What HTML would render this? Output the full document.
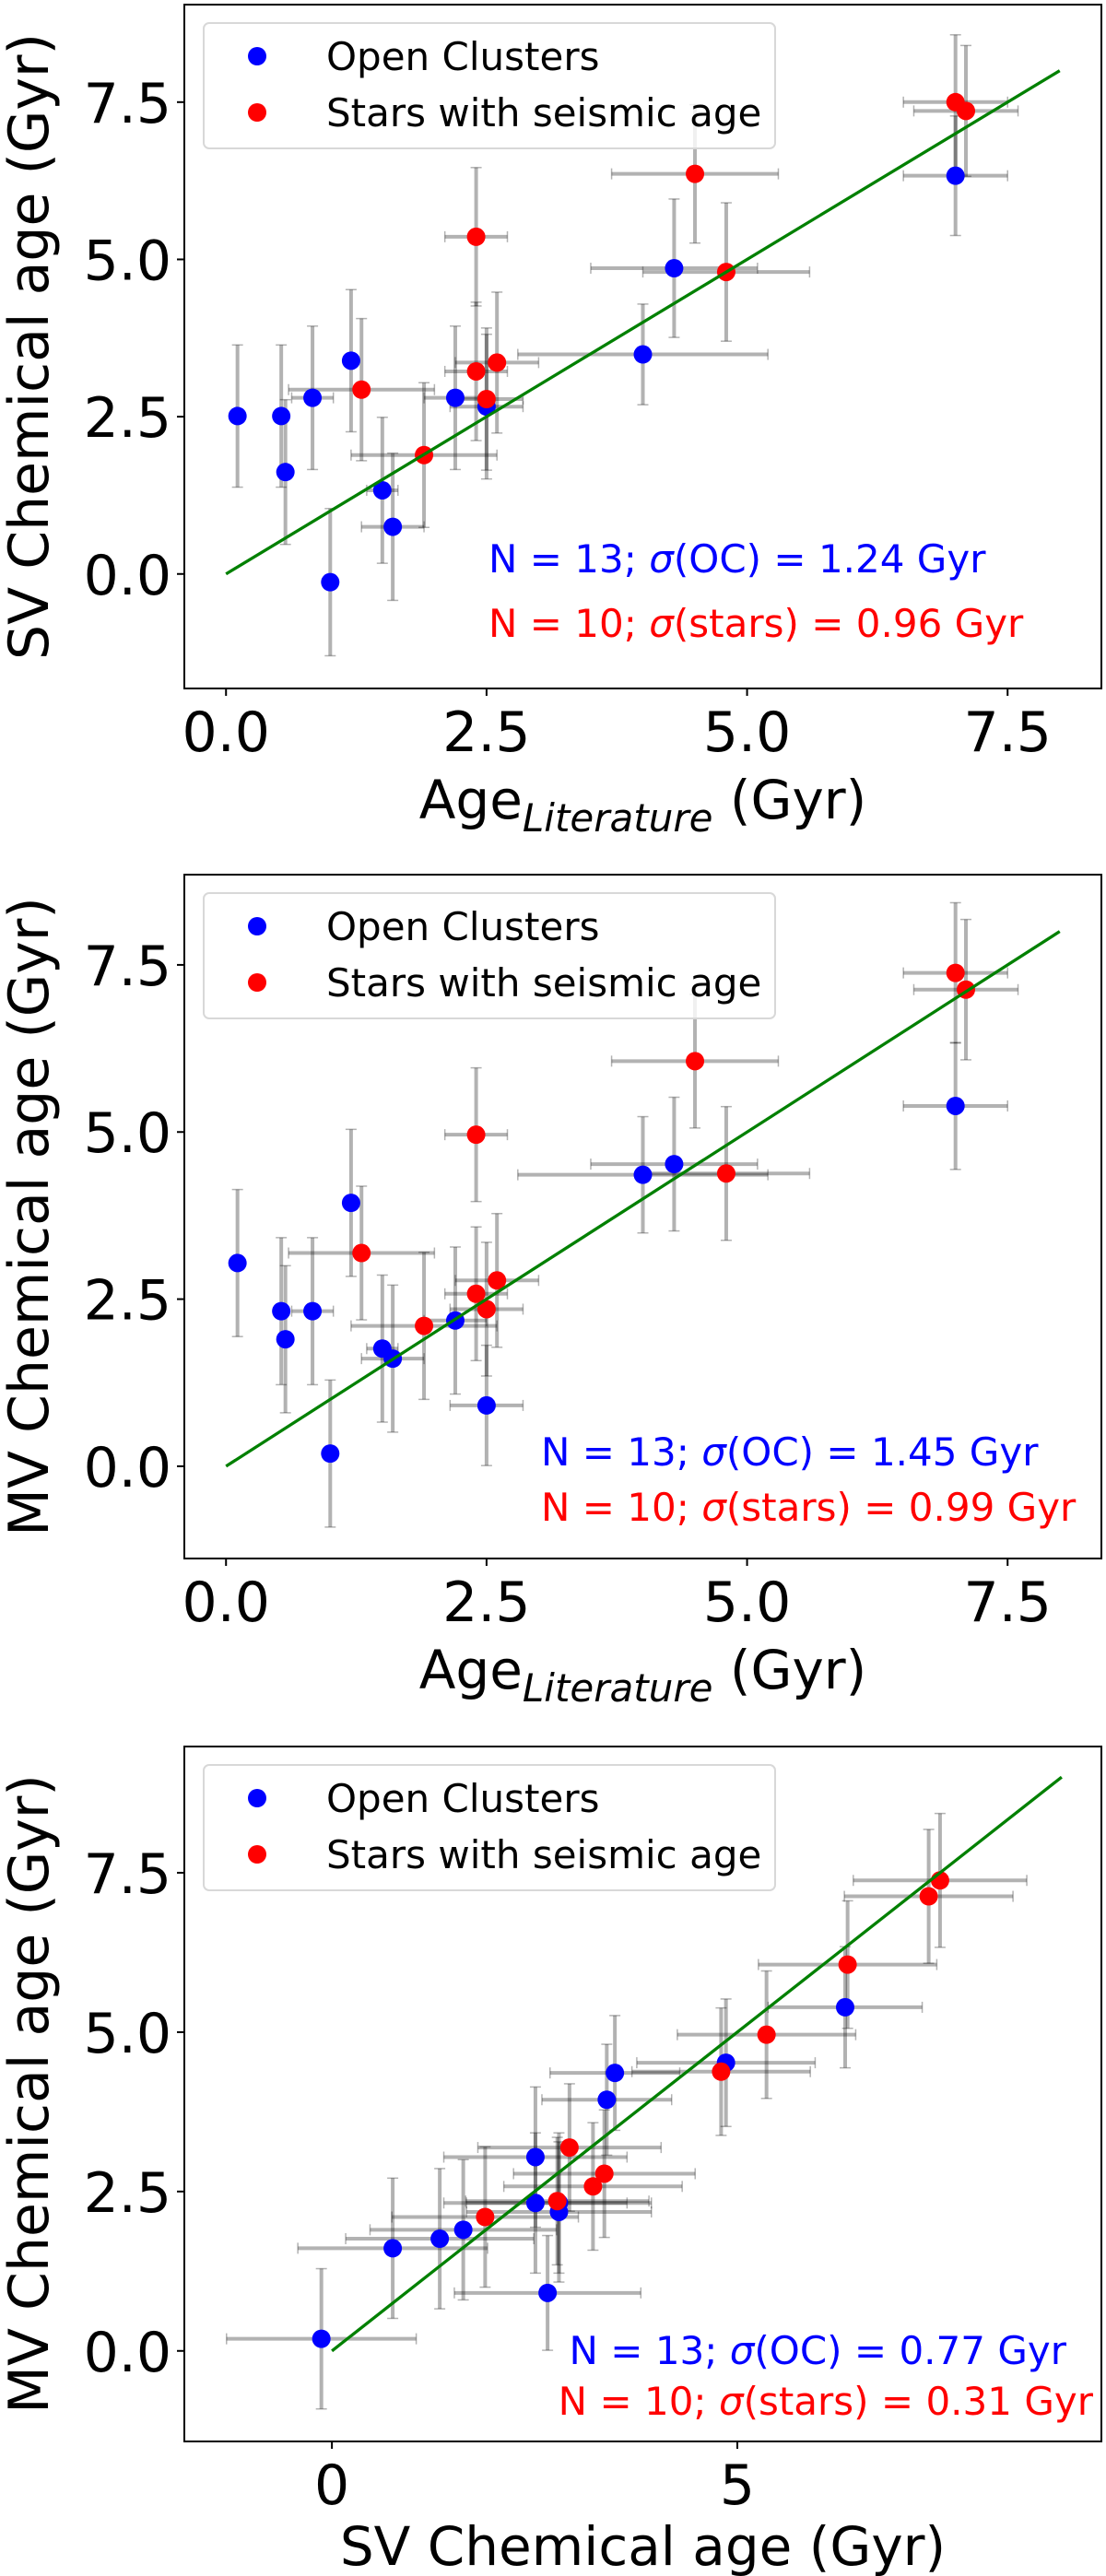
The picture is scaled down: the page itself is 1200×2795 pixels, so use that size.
<!DOCTYPE html>
<html><head><meta charset="utf-8">
<style>
html,body{margin:0;padding:0;background:#fff;}
svg{display:block;font-family:"DejaVu Sans","Liberation Sans",sans-serif;}
</style></head>
<body>
<svg id="fig" width="1200" height="2795" viewBox="0 0 1200 2795" xmlns="http://www.w3.org/2000/svg"></svg>
<script>
// Panel 1 data: Age_Literature vs SV chemical age
const p1ocX = [0.11,0.53,0.57,0.83,1.2,1.5,1.6,1.0,2.2,2.5,4.0,4.3,7.0];
const p1ocY = [2.51,2.51,1.62,2.80,3.39,1.33,0.75,-0.13,2.80,2.66,3.49,4.86,6.33];
const p1ocXerr = [0,0,0.05,0.2,0,0.15,0.3,0,0.3,0.35,1.2,0.8,0.5];
const p1ocYerr = [1.13,1.13,1.15,1.14,1.13,1.16,1.17,1.17,1.14,1.15,0.8,1.1,0.95];
const p1stX = [2.4,2.4,2.5,2.6,1.3,1.9,4.5,4.8,7.0,7.1];
const p1stY = [5.36,3.22,2.78,3.36,2.93,1.89,6.36,4.80,7.50,7.36];
const p1stXerr = [0.3,0.3,0.35,0.4,0.7,0.7,0.8,0.8,0.5,0.5];
const p1stYerr = [1.1,1.1,1.13,1.12,1.13,1.15,1.1,1.1,1.07,1.04];
// Panel 2 data: Age_Literature vs MV chemical age
const p2ocX = p1ocX.slice();
const p2ocY = [3.04,2.32,1.90,2.32,3.94,1.76,1.61,0.19,2.18,0.91,4.36,4.52,5.39];
const p2ocXerr = p1ocXerr.slice();
const p2ocYerr = [1.1,1.1,1.1,1.1,1.1,1.1,1.1,1.1,1.1,0.9,0.87,1.0,0.95];
const p2stX = p1stX.slice();
const p2stY = [4.96,2.58,2.35,2.78,3.19,2.10,6.06,4.38,7.38,7.13];
const p2stXerr = p1stXerr.slice();
const p2stYerr = [1.0,1.0,1.0,1.0,1.0,1.1,1.0,1.0,1.05,1.05];
// Panel 3 data: SV vs MV chemical age
const p3ocX = [-0.13,0.75,1.33,1.62,2.51,2.51,2.80,2.66,3.39,3.49,4.86,6.33,2.80];
const p3ocY = [0.19,1.61,1.76,1.90,3.04,2.32,2.18,0.91,3.94,4.36,4.52,5.39,2.32];
const p3ocXerr = [1.17,1.17,1.16,1.15,1.13,1.13,1.14,1.15,0.8,0.8,1.1,0.95,1.14];
const p3ocYerr = [1.1,1.1,1.1,1.1,1.1,1.1,1.1,0.9,0.87,0.9,1.0,0.95,1.1];
const p3stX = [1.89,2.78,2.93,3.22,3.36,4.80,5.36,6.36,7.36,7.50];
const p3stY = [2.10,2.35,3.19,2.58,2.78,4.38,4.96,6.06,7.13,7.38];
const p3stXerr = [1.15,1.13,1.13,1.1,1.12,1.1,1.1,1.1,1.04,1.07];
const p3stYerr = [1.1,1.0,1.0,1.0,1.0,1.0,1.0,1.0,1.05,1.05];

const litTicks = [0,2.5,5,7.5];
const litTickLabels = ["0.0","2.5","5.0","7.5"];
const yTicks = [0,2.5,5,7.5];
const yTickLabels = ["0.0","2.5","5.0","7.5"];
const svTicks = [0,5];
const svTickLabels = ["0","5"];

const NS="http://www.w3.org/2000/svg";
const svg=document.getElementById('fig');
function mk(tag,attrs,parent){const e=document.createElementNS(NS,tag);for(const k in attrs)e.setAttribute(k,attrs[k]);(parent||svg).appendChild(e);return e;}
function sigmaText(el,pre,mid,post){
  const a=mk('tspan',{},el);a.textContent=pre;
  const b=mk('tspan',{'font-style':'italic'},el);b.textContent=mid;
  const c=mk('tspan',{},el);c.textContent=post;
}

const panels=[
 {name:'sv-vs-literature',top:5,bottom:747,xmin:-0.4,xmax:8.4,ymin:-1.82,ymax:9.05,
  xt:litTicks,xtl:litTickLabels,lineMax:8,ylabel:'SV Chemical age (Gyr)',xlabel:'lit',xlOff:141,
  oc:[p1ocX,p1ocY,p1ocXerr,p1ocYerr],st:[p1stX,p1stY,p1stXerr,p1stYerr],
  t1:['N = 13; ','σ','(OC) = 1.24 Gyr'],t2:['N = 10; ','σ','(stars) = 0.96 Gyr'],tx:530,anchor:'start',ty1:621,ty2:691},
 {name:'mv-vs-literature',top:949,bottom:1691,xmin:-0.4,xmax:8.4,ymin:-1.38,ymax:8.85,
  xt:litTicks,xtl:litTickLabels,lineMax:8,ylabel:'MV Chemical age (Gyr)',xlabel:'lit',xlOff:141,
  oc:[p2ocX,p2ocY,p2ocXerr,p2ocYerr],st:[p2stX,p2stY,p2stXerr,p2stYerr],
  t1:['N = 13; ','σ','(OC) = 1.45 Gyr'],t2:['N = 10; ','σ','(stars) = 0.99 Gyr'],tx:587,anchor:'start',ty1:1590,ty2:1650},
 {name:'mv-vs-sv',top:1895,bottom:2649,xmin:-1.82,xmax:9.49,ymin:-1.42,ymax:9.48,
  xt:svTicks,xtl:svTickLabels,lineMax:9,ylabel:'MV Chemical age (Gyr)',xlabel:'SV Chemical age (Gyr)',xlOff:134,
  oc:[p3ocX,p3ocY,p3ocXerr,p3ocYerr],st:[p3stX,p3stY,p3stXerr,p3stYerr],
  t1:['N = 13; ','σ','(OC) = 0.77 Gyr'],t2:['N = 10; ','σ','(stars) = 0.31 Gyr'],tx:1186,anchor:'end',ty1:2565,ty2:2620,tx1:1157}
];
const L=200,R=1195;
panels.forEach((p,pi)=>{
  const g=mk('g',{});
  
  
  const sx=v=>L+(v-p.xmin)/(p.xmax-p.xmin)*(R-L);
  const sy=v=>p.bottom-(v-p.ymin)/(p.ymax-p.ymin)*(p.bottom-p.top);
  const eg=mk('g',{stroke:'rgba(0,0,0,0.3)','stroke-width':4,fill:'none'},g);
  
  
  [p.oc,p.st].forEach(s=>{
    for(let i=0;i<s[0].length;i++){
      const x=s[0][i],y=s[1][i],xe=s[2][i],ye=s[3][i];
      if(xe>0){
        mk('line',{x1:sx(x-xe),x2:sx(x+xe),y1:sy(y),y2:sy(y)},eg);
        mk('line',{x1:sx(x-xe),x2:sx(x-xe),y1:sy(y)-6,y2:sy(y)+6,'stroke-width':1.5},eg);
        mk('line',{x1:sx(x+xe),x2:sx(x+xe),y1:sy(y)-6,y2:sy(y)+6,'stroke-width':1.5},eg);
      }
      if(ye>0){
        mk('line',{x1:sx(x),x2:sx(x),y1:sy(y-ye),y2:sy(y+ye)},eg);
        mk('line',{x1:sx(x)-6,x2:sx(x)+6,y1:sy(y-ye),y2:sy(y-ye),'stroke-width':1.5},eg);
        mk('line',{x1:sx(x)-6,x2:sx(x)+6,y1:sy(y+ye),y2:sy(y+ye),'stroke-width':1.5},eg);
      }
    }
  });
  [[p.oc,'#0000ff','open-cluster'],[p.st,'#ff0000','seismic-star']].forEach(([s,c,n])=>{
    for(let i=0;i<s[0].length;i++){
      const ci=mk('circle',{cx:sx(s[0][i]),cy:sy(s[1][i]),r:10,fill:c},g);
      
      
    }
  });
  const ln=mk('line',{x1:sx(0),y1:sy(0),x2:sx(p.lineMax),y2:sy(p.lineMax),stroke:'#008000','stroke-width':3.3},g);
  
  
  const fr=mk('rect',{x:L,y:p.top,width:R-L,height:p.bottom-p.top,fill:'none',stroke:'#000','stroke-width':2},g);
  
  
  p.xt.forEach((t,i)=>{
    mk('line',{x1:sx(t),x2:sx(t),y1:p.bottom,y2:p.bottom+8,stroke:'#000','stroke-width':2},g);
    const tl=mk('text',{x:sx(t),y:p.bottom+68,'font-size':60,'text-anchor':'middle'},g);
    tl.textContent=p.xtl[i];
    
    
  });
  yTicks.forEach((t,i)=>{
    mk('line',{x1:L,x2:L-8,y1:sy(t),y2:sy(t),stroke:'#000','stroke-width':2},g);
    const tl=mk('text',{x:L-14,y:sy(t)+22,'font-size':60,'text-anchor':'end'},g);
    tl.textContent=yTickLabels[i];
    
    
  });
  const cy=(p.top+p.bottom)/2;
  const yl=mk('text',{x:0,y:0,'font-size':60,'text-anchor':'middle',transform:`translate(52,${cy}) rotate(-90)`},g);
  yl.textContent=p.ylabel;
  
  
  const xl=mk('text',{x:(L+R)/2,y:p.bottom+p.xlOff,'font-size':58,'text-anchor':'middle'},g);
  
  
  if(p.xlabel==='lit'){
    const a=mk('tspan',{},xl);a.textContent='Age';
    const b=mk('tspan',{'font-size':42,'font-style':'italic',dy:14},xl);b.textContent='Literature';
    const c=mk('tspan',{dy:-14},xl);c.textContent=' (Gyr)';
  } else xl.textContent=p.xlabel;
  const lg=mk('g',{},g);
  
  
  mk('rect',{x:221,y:p.top+20,width:620,height:136,rx:6,fill:'#fff','fill-opacity':0.8,stroke:'#d8d8d8','stroke-width':2},lg);
  [['Open Clusters','#0000ff',0],['Stars with seismic age','#ff0000',1]].forEach(([t,c,k])=>{
    const yy=p.top+56+k*61;
    mk('circle',{cx:279,cy:yy,r:10,fill:c},lg);
    const tt=mk('text',{x:354,y:yy+15,'font-size':42},lg);
    tt.textContent=t;
    
    
  });
  const a1=mk('text',{x:p.tx1||p.tx,y:p.ty1,'font-size':42,fill:'#0000ff','text-anchor':p.anchor},g);
  sigmaText(a1,p.t1[0],p.t1[1],p.t1[2]);
  
  
  const a2=mk('text',{x:p.tx,y:p.ty2,'font-size':42,fill:'#ff0000','text-anchor':p.anchor},g);
  sigmaText(a2,p.t2[0],p.t2[1],p.t2[2]);
  
  
});
</script>
</body></html>
